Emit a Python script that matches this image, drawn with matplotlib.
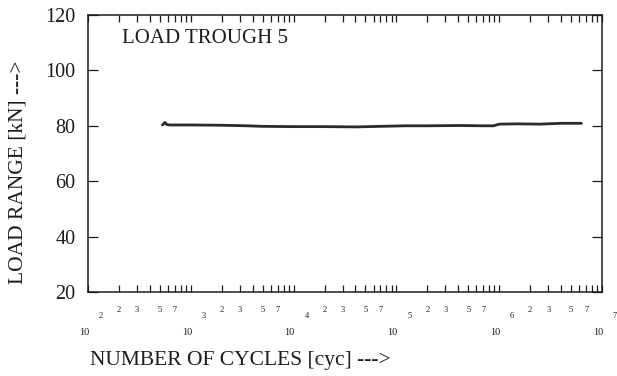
import numpy as np
import matplotlib
matplotlib.use('Agg')
import matplotlib.pyplot as plt
from matplotlib.ticker import LogLocator, NullFormatter, FixedLocator
import matplotlib.transforms as mtransforms

plt.rcParams['font.family'] = ['Liberation Serif', 'DejaVu Serif']

# load range vs. number of cycles
cycles = [5.3e2, 5.6e2, 5.8e2, 6.2e2, 1e3, 2e3, 3.5e3, 5e3, 1e4, 2e4, 4e4, 7e4,
          1.2e5, 2e5, 4e5, 7e5, 8.8e5, 1.0e6, 1.5e6, 2.5e6, 4e6, 6.3e6]
load_range = [80.3, 81.2, 80.5, 80.3, 80.3, 80.2, 80.0, 79.8, 79.7, 79.7, 79.6, 79.8,
              80.0, 80.0, 80.1, 80.0, 80.0, 80.6, 80.7, 80.6, 80.9, 80.9]

yticks = [20, 40, 60, 80, 100, 120]
decades = [2, 3, 4, 5, 6, 7]
sub_labels = [2, 3, 5, 7]

ink = '#1c1c1c'

fig = plt.figure(figsize=(6.17, 3.76), dpi=100)
ax = fig.add_axes([88/617, 1 - 292/376, (602-88)/617, (292-15)/376])

ax.plot(cycles, load_range, color='#2a2a2a', lw=2.0, solid_capstyle='round')

ax.set_xscale('log')
ax.set_xlim(1e2, 1e7)
ax.set_ylim(20, 120)

ax.xaxis.set_major_locator(FixedLocator([10.0**d for d in decades]))
ax.xaxis.set_minor_locator(LogLocator(base=10, subs=np.arange(2, 10)))
ax.xaxis.set_major_formatter(NullFormatter())
ax.xaxis.set_minor_formatter(NullFormatter())
ax.set_yticks(yticks)

ax.tick_params(axis='x', which='both', direction='in', top=True, bottom=True,
               length=5, width=0.9, color=ink)
ax.tick_params(axis='y', which='major', direction='in', left=True, right=True,
               length=7, width=0.9, color=ink, labelsize=14.5, labelcolor=ink, pad=9)

for s in ax.spines.values():
    s.set_color(ink)
    s.set_linewidth(1.1)

# hand-made log tick labels like on the original
trans = mtransforms.blended_transform_factory(ax.transData, ax.transAxes)
px = mtransforms.ScaledTranslation
for d in decades:
    x0 = 10.0**d
    ax.text(x0, -0.148, '10', transform=trans + px(-4/100, 0, fig.dpi_scale_trans),
            ha='center', va='center', fontsize=7.5, color=ink)
    ax.text(x0, -0.088, str(d), transform=trans + px(13/100, 0, fig.dpi_scale_trans),
            ha='center', va='center', fontsize=6, color=ink)
    if d < 7:
        for s in sub_labels:
            ax.text(s * x0, -0.065, str(s), transform=trans,
                    ha='center', va='center', fontsize=6, color=ink)

ax.text(0.066, 0.915, 'LOAD TROUGH 5', transform=ax.transAxes,
        fontsize=15, color=ink, ha='left', va='center')

fig.text(90/617, 1 - 360/376, 'NUMBER OF CYCLES [cyc] --->', fontsize=15.5,
         color=ink, ha='left', va='center')
fig.text(18/617, 1 - 172/376, 'LOAD RANGE [kN] --->', fontsize=15.5, rotation=90,
         color=ink, ha='center', va='center')

fig.savefig('out.png', dpi=100)
